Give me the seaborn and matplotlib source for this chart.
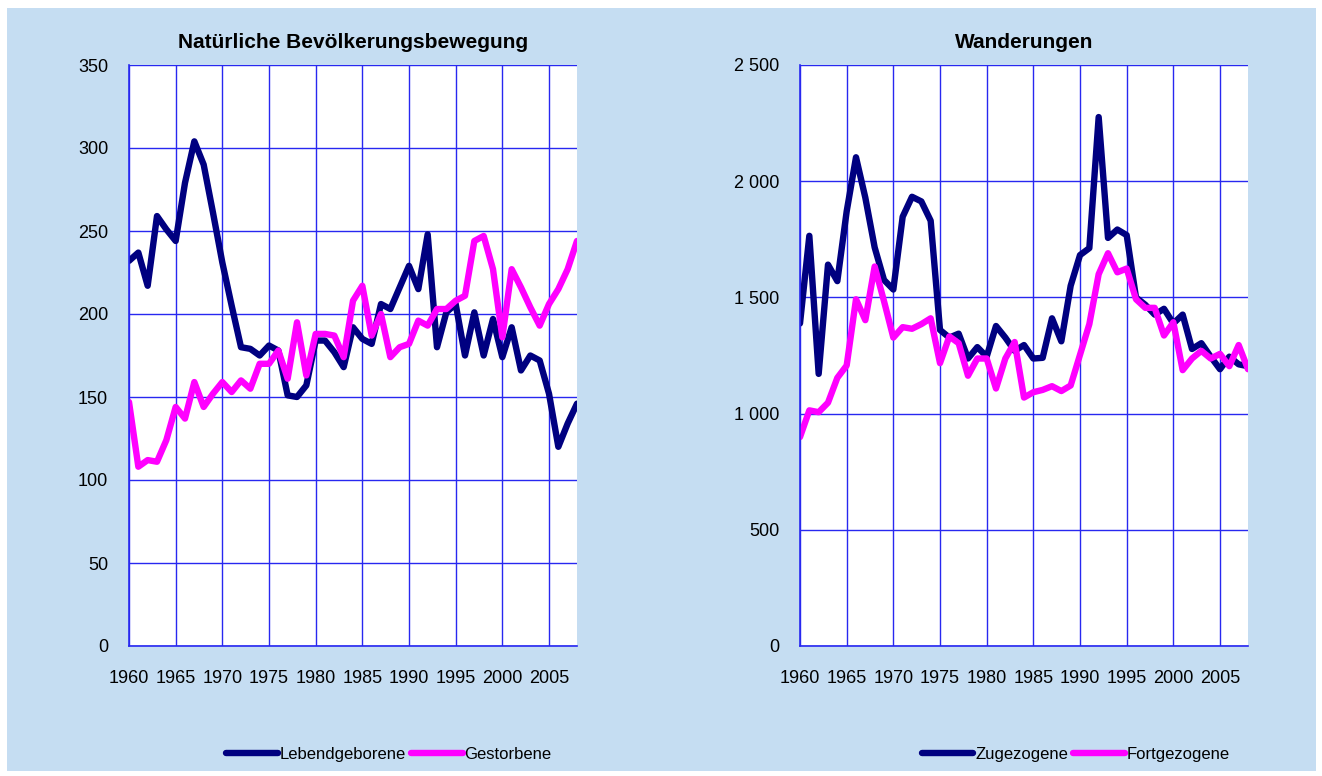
import numpy as np
import pandas as pd
import matplotlib
matplotlib.use("Agg")
import matplotlib.pyplot as plt
import matplotlib.ticker as mticker
from matplotlib.patches import Rectangle
import seaborn as sns

years = list(range(1960, 2009))

lebendgeborene = [232, 237, 217, 259, 251, 244, 279, 304, 290, 261, 231, 205, 180, 179, 175, 181, 178, 151,
                  150, 157, 184, 184, 177, 168, 192, 185, 182, 206, 203, 216, 229, 215, 248, 180, 201, 206,
                  175, 201, 175, 197, 174, 192, 166, 175, 172, 152, 120, 134, 146]
gestorbene = [147, 108, 112, 111, 124, 144, 137, 159, 144, 152, 159, 153, 160, 155, 170, 170, 178, 161,
              195, 163, 188, 188, 187, 174, 208, 217, 187, 200, 174, 180, 182, 196, 193, 203, 203, 208,
              211, 244, 247, 227, 186, 227, 216, 204, 193, 206, 215, 227, 244]

zugezogene = [1388, 1765, 1171, 1641, 1570, 1870, 2103, 1929, 1715, 1575, 1534, 1847, 1933, 1913, 1830,
              1360, 1327, 1344, 1237, 1286, 1245, 1377, 1327, 1270, 1295, 1237, 1240, 1410, 1311, 1550,
              1682, 1712, 2276, 1756, 1792, 1768, 1500, 1468, 1426, 1451, 1388, 1426, 1278, 1303, 1245,
              1191, 1245, 1212, 1204]
fortgezogene = [899, 1014, 1006, 1047, 1154, 1207, 1492, 1402, 1633, 1484, 1327, 1372, 1365, 1385, 1410,
                1217, 1332, 1303, 1163, 1237, 1237, 1108, 1237, 1308, 1069, 1092, 1102, 1118, 1097, 1121,
                1253, 1385, 1600, 1690, 1608, 1624, 1492, 1455, 1455, 1336, 1393, 1187, 1237, 1270, 1237,
                1257, 1204, 1295, 1191]

xticks = list(range(1960, 2006, 5))

sns.set_theme(style="white")
plt.rcParams['font.family'] = ['Liberation Sans Narrow', 'Liberation Sans', 'DejaVu Sans']
plt.rcParams['text.color'] = 'black'
plt.rcParams['xtick.color'] = 'black'
plt.rcParams['ytick.color'] = 'black'

navy = "#000080"
magenta = "#FF00FF"
grid_blue = "#2828F0"
panel_bg = "#C5DDF2"

fig = plt.figure(figsize=(13.22, 7.76), dpi=100, facecolor="white")
bg = Rectangle((7 / 1322, 1 - 771 / 776), 1309 / 1322, 763 / 776,
               transform=fig.transFigure, facecolor=panel_bg, edgecolor="none", zorder=-10)
fig.add_artist(bg)

ax1 = fig.add_axes([129 / 1322, 1 - 646 / 776, 448 / 1322, 581 / 776])
ax2 = fig.add_axes([800 / 1322, 1 - 646 / 776, 448 / 1322, 581 / 776])


def style_axis(ax, title, ymax, ystep, fmt, leg_x):
    ax.set_facecolor("white")
    ax.set_xlim(1960, 2008)
    ax.set_ylim(0, ymax)
    ax.set_xticks(xticks)
    ax.set_yticks(np.arange(0, ymax + 1, ystep))
    ax.yaxis.set_major_formatter(mticker.FuncFormatter(fmt))
    ax.grid(True, color=grid_blue, linewidth=1.0)
    ax.set_axisbelow(True)
    for side in ["top", "right"]:
        ax.spines[side].set_visible(False)
    for side in ["left", "bottom"]:
        ax.spines[side].set_color(grid_blue)
        ax.spines[side].set_linewidth(1.2)
    ax.tick_params(axis="y", length=5, color=grid_blue, width=1, pad=10, labelsize=13,
                   labelcolor="black")
    ax.tick_params(axis="x", length=0, pad=17, labelsize=13, labelcolor="black")
    ax.set_xlabel("")
    ax.set_ylabel("")
    ax.set_title(title, fontsize=15, fontweight="bold", pad=12, color="black",
                 family=['Liberation Sans', 'DejaVu Sans'])
    leg = ax.legend(loc="upper center", bbox_to_anchor=(leg_x, -0.148), ncol=2, frameon=False,
                    fontsize=12, handlelength=3.1, handletextpad=0.1, columnspacing=0.3)
    for t in leg.get_texts():
        t.set_color("black")


df1 = pd.DataFrame({"Jahr": years, "Lebendgeborene": lebendgeborene, "Gestorbene": gestorbene})
sns.lineplot(data=df1, x="Jahr", y="Lebendgeborene", ax=ax1, color=navy, linewidth=4.6,
             label="Lebendgeborene")
sns.lineplot(data=df1, x="Jahr", y="Gestorbene", ax=ax1, color=magenta, linewidth=4.6,
             label="Gestorbene")
style_axis(ax1, "Natürliche Bevölkerungsbewegung", 350, 50, lambda v, p: f"{int(v)}", 0.58)

df2 = pd.DataFrame({"Jahr": years, "Zugezogene": zugezogene, "Fortgezogene": fortgezogene})
sns.lineplot(data=df2, x="Jahr", y="Zugezogene", ax=ax2, color=navy, linewidth=4.6,
             label="Zugezogene")
sns.lineplot(data=df2, x="Jahr", y="Fortgezogene", ax=ax2, color=magenta, linewidth=4.6,
             label="Fortgezogene")
style_axis(ax2, "Wanderungen", 2500, 500, lambda v, p: f"{int(v):,}".replace(",", " "), 0.615)

for ax in (ax1, ax2):
    for line in ax.get_lines():
        line.set_solid_joinstyle("round")
        line.set_solid_capstyle("round")

fig.savefig("out.png", dpi=100, facecolor="white")
